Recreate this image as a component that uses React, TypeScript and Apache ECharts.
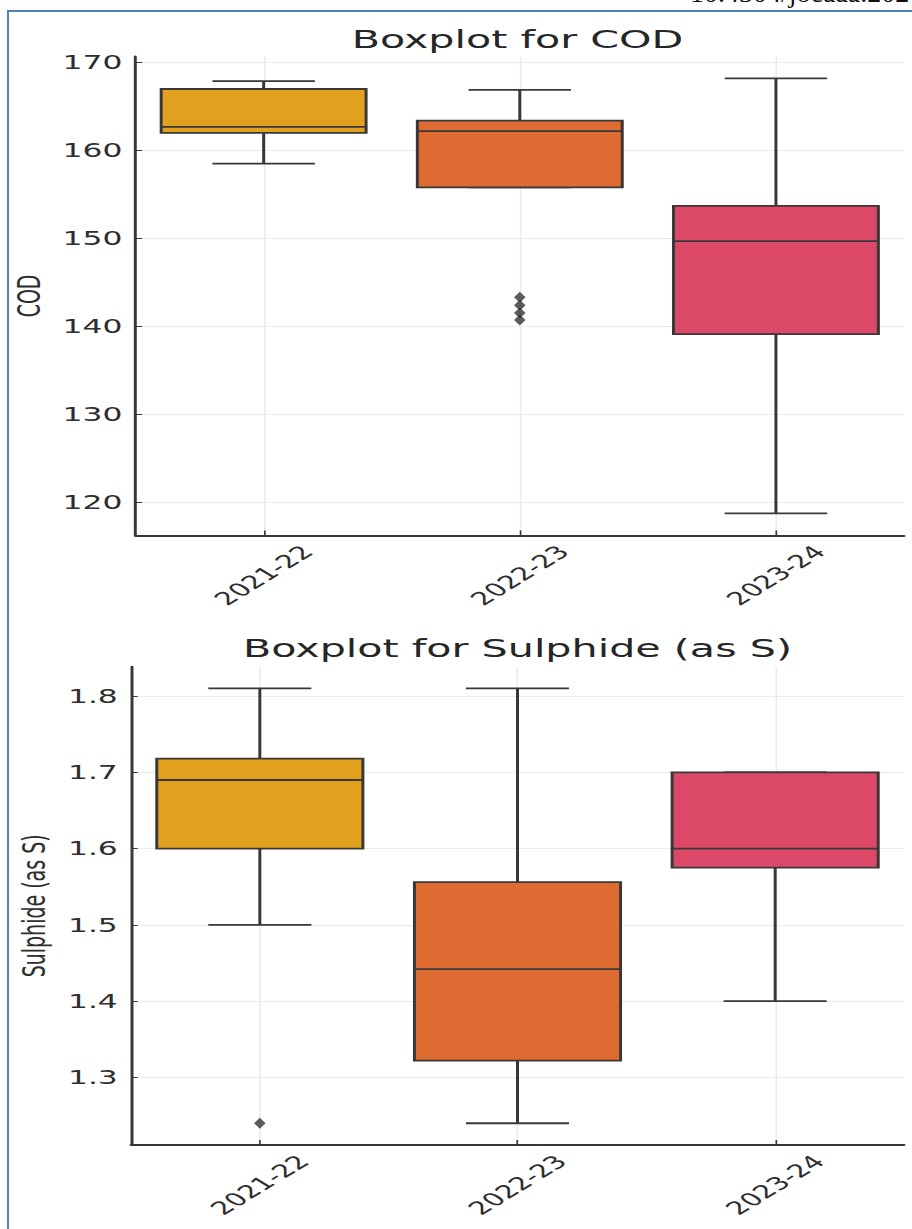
import React, { useEffect, useRef } from "react";
import * as echarts from "echarts";

// ---- data ----
const categories = ["2021-22", "2022-23", "2023-24"];
// [lower whisker, Q1, median, Q3, upper whisker]
const codBoxes = [
  [158.5, 162.0, 162.7, 167.0, 167.9],
  [155.8, 155.8, 162.2, 163.4, 166.9],
  [118.7, 139.1, 149.7, 153.7, 168.2],
];
const codOutliers = [
  [1, 143.3],
  [1, 142.4],
  [1, 141.5],
  [1, 140.7],
];
const sulBoxes = [
  [1.5, 1.6, 1.69, 1.718, 1.81],
  [1.24, 1.322, 1.442, 1.556, 1.81],
  [1.4, 1.575, 1.6, 1.7, 1.7],
];
const sulOutliers = [[0, 1.24]];
const boxColors = ["#e1a11f", "#de6c32", "#dc4867"];
const titles = ["Boxplot for COD", "Boxplot for Sulphide (as S)"];
const yNames = ["COD", "Sulphide (as S)"];
const codRange = [116.2, 170.7];
const sulRange = [1.2115, 1.8385];

// ---- layout (page px; chart is horizontally stretched) ----
const S = 1.65;
const PAGE_W = 912;
const PAGE_H = 1229;
const CW = PAGE_W / S;
const plotLeft = 131 / S;
const plotRight = 904 / S;
const EDGE = "#383838";
const FONT = "DejaVu Sans";

function boxSeries(boxes: number[][], xi: number, yi: number) {
  return {
    type: "custom",
    xAxisIndex: xi,
    yAxisIndex: yi,
    data: boxes.map((b, i) => [i, ...b]),
    encode: { x: 0, y: [1, 2, 3, 4, 5] },
    z: 3,
    renderItem: (params: any, api: any) => {
      const i = api.value(0);
      const vals = [1, 2, 3, 4, 5].map((k) => api.value(k));
      const band = api.size([1, 0])[0];
      const cx = api.coord([i, vals[2]])[0];
      const y = vals.map((v: number) => api.coord([i, v])[1]);
      const bw = band * 0.8;
      const cw = band * 0.4;
      const ls = { stroke: EDGE, lineWidth: 1.8 };
      return {
        type: "group",
        children: [
          { type: "line", shape: { x1: cx, y1: y[0], x2: cx, y2: y[1] }, style: ls },
          { type: "line", shape: { x1: cx, y1: y[3], x2: cx, y2: y[4] }, style: ls },
          { type: "line", shape: { x1: cx - cw / 2, y1: y[0], x2: cx + cw / 2, y2: y[0] }, style: ls },
          { type: "line", shape: { x1: cx - cw / 2, y1: y[4], x2: cx + cw / 2, y2: y[4] }, style: ls },
          {
            type: "rect",
            shape: { x: cx - bw / 2, y: y[3], width: bw, height: y[1] - y[3] },
            style: { fill: boxColors[i], stroke: EDGE, lineWidth: 1.8 },
          },
          { type: "line", shape: { x1: cx - bw / 2, y1: y[2], x2: cx + bw / 2, y2: y[2] }, style: ls },
        ],
      };
    },
  };
}

function outlierSeries(data: number[][], xi: number, yi: number) {
  return {
    type: "scatter",
    xAxisIndex: xi,
    yAxisIndex: yi,
    data,
    symbol: "diamond",
    symbolSize: [7, 11],
    itemStyle: { color: "#333333" },
    z: 4,
  };
}

function catAxis(gridIndex: number) {
  return {
    gridIndex,
    type: "category",
    data: categories,
    boundaryGap: true,
    axisLine: { show: true, onZero: false, lineStyle: { color: EDGE, width: 1.8 } },
    axisTick: { show: true, alignWithLabel: true, inside: true, length: 5, lineStyle: { color: EDGE, width: 1 } },
    axisLabel: {
      interval: 0,
      rotate: 45,
      align: "center",
      verticalAlign: "middle",
      margin: 40,
      fontSize: 18,
      fontFamily: FONT,
      color: "#2e2e2e",
    },
    splitLine: { show: false },
  };
}

function gridXAxis(gridIndex: number) {
  return {
    gridIndex,
    type: "value",
    min: -0.5,
    max: 2.5,
    minInterval: 1,
    maxInterval: 1,
    axisLine: { show: false, onZero: false },
    axisTick: { show: false },
    axisLabel: { show: false },
    splitLine: { show: true, showMinLine: false, showMaxLine: false, lineStyle: { color: "#ebebeb", width: 1 } },
  };
}

function valAxis(gridIndex: number, range: number[], name: string, nameGap: number) {
  return {
    gridIndex,
    type: "value",
    min: range[0],
    max: range[1],
    splitNumber: 5,
    name,
    nameLocation: "middle",
    nameGap,
    nameTextStyle: { fontSize: 19, fontFamily: FONT, color: "#2e2e2e" },
    axisLine: { show: true, onZero: false, lineStyle: { color: EDGE, width: 1.8 } },
    axisTick: { show: true, inside: true, length: 4, lineStyle: { color: EDGE, width: 1 } },
    axisLabel: { showMinLabel: false, showMaxLabel: false, fontSize: 19, fontFamily: FONT, color: "#2e2e2e", margin: 8 },
    splitLine: { show: true, showMinLine: false, showMaxLine: false, lineStyle: { color: "#ebebeb", width: 1 } },
  };
}

export default function App() {
  const bgRef = useRef<HTMLDivElement>(null);
  const chartRef = useRef<HTMLDivElement>(null);

  useEffect(() => {
    const bg = echarts.init(bgRef.current!, undefined, { renderer: "svg" });
    bg.setOption({
      animation: false,
      graphic: [
        {
          type: "rect",
          shape: { x: 8, y: 11, width: 940, height: 1260 },
          style: { fill: "none", stroke: "#4f81bd", lineWidth: 2 },
        },
        {
          type: "text",
          x: 690,
          y: 6,
          style: {
            text: "10.4304/jocaaa.2024",
            fontSize: 28,
            fontFamily: "Liberation Serif",
            fill: "#111111",
            align: "left",
            verticalAlign: "bottom",
          },
        },
      ],
    });

    const chart = echarts.init(chartRef.current!, undefined, { renderer: "svg" });
    const titleX = (plotLeft + plotRight) / 2;
    chart.setOption({
      animation: false,
      grid: [
        { left: plotLeft, width: plotRight - plotLeft, top: 56.5, height: 478.9, containLabel: false },
        { left: plotLeft, width: plotRight - plotLeft, top: 666.7, height: 478.3, containLabel: false },
      ],
      xAxis: [catAxis(0), gridXAxis(0), catAxis(1), gridXAxis(1)],
      yAxis: [valAxis(0, codRange, yNames[0], 43), valAxis(1, sulRange, yNames[1], 40)],
      graphic: [
        {
          type: "text",
          x: titleX,
          y: 39,
          style: { text: titles[0], fontSize: 25, fontFamily: FONT, fill: "#262626", align: "center", verticalAlign: "middle" },
        },
        {
          type: "text",
          x: titleX,
          y: 648,
          style: { text: titles[1], fontSize: 25, fontFamily: FONT, fill: "#262626", align: "center", verticalAlign: "middle" },
        },
      ],
      series: [
        boxSeries(codBoxes, 0, 0),
        outlierSeries(codOutliers, 0, 0),
        boxSeries(sulBoxes, 2, 1),
        outlierSeries(sulOutliers, 2, 1),
      ],
    });

    return () => {
      chart.dispose();
      bg.dispose();
    };
  }, []);

  return (
    <div
      style={{
        position: "absolute",
        left: 0,
        top: 0,
        width: PAGE_W,
        height: PAGE_H,
        overflow: "hidden",
        background: "#ffffff",
      }}
    >
      <div ref={bgRef} style={{ position: "absolute", left: 0, top: 0, width: PAGE_W, height: PAGE_H }} />
      <div
        ref={chartRef}
        style={{
          position: "absolute",
          left: 0,
          top: 0,
          width: CW,
          height: PAGE_H,
          transform: `scaleX(${S})`,
          transformOrigin: "0 0",
        }}
      />
    </div>
  );
}
